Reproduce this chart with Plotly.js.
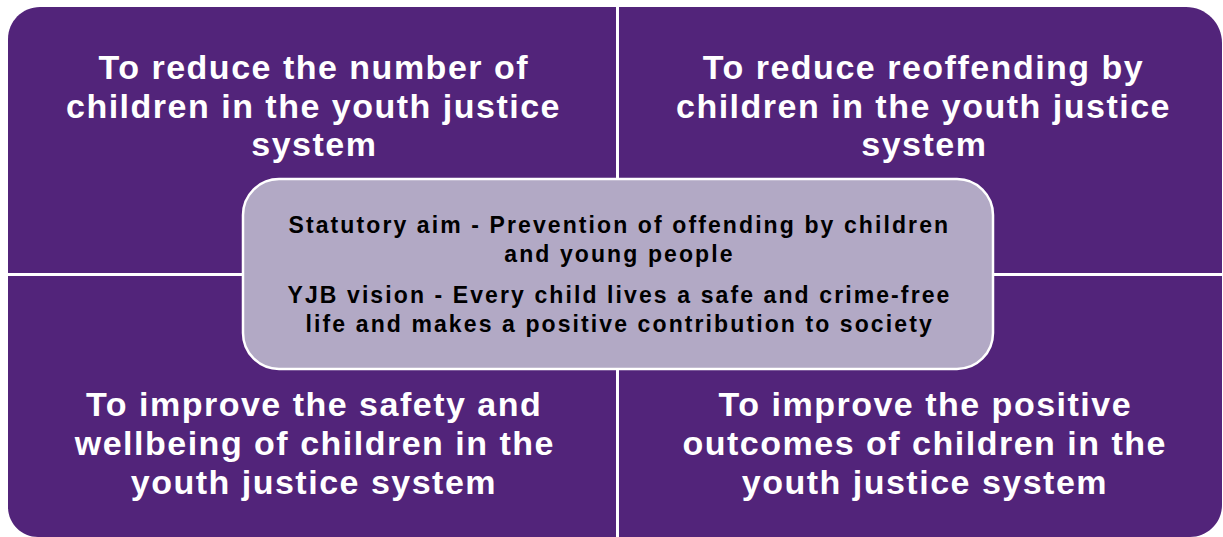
<!DOCTYPE html>
<html>
<head>
<meta charset="utf-8">
<script src="https://cdn.plot.ly/plotly-3.0.1.min.js"></script>
<style>html,body{margin:0;padding:0;background:#fff;}#chart{width:1223px;height:537px;}</style>
</head>
<body>
<div id="chart"></div>
<script>
// Diagram content
var quadrantLabels = [
  "To reduce the number of<br>children in the youth justice<br>system",
  "To reduce reoffending by<br>children in the youth justice<br>system",
  "To improve the safety and<br>wellbeing of children in the<br>youth justice system",
  "To improve the positive<br>outcomes of children in the<br>youth justice system"
];
var centreLines = [
  "Statutory aim - Prevention of offending by children<br>and young people",
  "YJB vision - Every child lives a safe and crime-free<br>life and makes a positive contribution to society"
];

var PURPLE = "#52247a";
var LAVENDER = "#b2a9c5";
var FONT = "Liberation Sans, Arial, sans-serif";

function roundRect(x0, y0, x1, y1, rtl, rtr, rbr, rbl) {
  var k = 0.5523;
  var p = "M" + (x0 + rtl) + "," + y0;
  p += " L" + (x1 - rtr) + "," + y0;
  if (rtr) p += " C" + (x1 - rtr + rtr * k) + "," + y0 + " " + x1 + "," + (y0 + rtr - rtr * k) + " " + x1 + "," + (y0 + rtr);
  p += " L" + x1 + "," + (y1 - rbr);
  if (rbr) p += " C" + x1 + "," + (y1 - rbr + rbr * k) + " " + (x1 - rbr + rbr * k) + "," + y1 + " " + (x1 - rbr) + "," + y1;
  p += " L" + (x0 + rbl) + "," + y1;
  if (rbl) p += " C" + (x0 + rbl - rbl * k) + "," + y1 + " " + x0 + "," + (y1 - rbl + rbl * k) + " " + x0 + "," + (y1 - rbl);
  p += " L" + x0 + "," + (y0 + rtl);
  if (rtl) p += " C" + x0 + "," + (y0 + rtl - rtl * k) + " " + (x0 + rtl - rtl * k) + "," + y0 + " " + (x0 + rtl) + "," + y0;
  return p + " Z";
}

var quads = [
  [8, 7, 616, 273, 32, 0, 0, 0],
  [619, 7, 1222, 273, 0, 36, 0, 0],
  [8, 276, 616, 537, 0, 0, 0, 30],
  [619, 276, 1222, 537, 0, 0, 32, 0]
];
var shapes = quads.map(function (q) {
  return {type: "path", xref: "x", yref: "y", path: roundRect.apply(null, q),
          fillcolor: PURPLE, line: {width: 0}, layer: "below"};
});
shapes.push({type: "path", xref: "x", yref: "y",
  path: roundRect(243, 179, 993, 369, 36, 36, 36, 36),
  fillcolor: LAVENDER, line: {color: "#ffffff", width: 2.5}, layer: "below"});

var annotations = [];
// quadrant label placement: centre x, first line y, line step
var qPos = [[313, 67, 38.5], [923, 67, 38.5], [313, 404, 39], [924, 404, 39]];
quadrantLabels.forEach(function (t, i) {
  t.split("<br>").forEach(function (line, j) {
    annotations.push({x: qPos[i][0], y: qPos[i][1] + j * qPos[i][2], xref: "x", yref: "y",
      text: "<b>" + line + "</b>", showarrow: false, xanchor: "center", yanchor: "middle",
      font: {family: FONT, size: 34, color: "#ffffff"}});
  });
});
var cPos = [[618, 225, 29], [618, 295, 28.5]];
centreLines.forEach(function (t, i) {
  t.split("<br>").forEach(function (line, j) {
    annotations.push({x: cPos[i][0], y: cPos[i][1] + j * cPos[i][2], xref: "x", yref: "y",
      text: "<b>" + line + "</b>", showarrow: false, xanchor: "center", yanchor: "middle",
      font: {family: FONT, size: 23, color: "#000000"}});
  });
});

var layout = {
  width: 1223, height: 537,
  margin: {l: 0, r: 0, t: 0, b: 0},
  paper_bgcolor: "#ffffff", plot_bgcolor: "#ffffff",
  xaxis: {range: [0, 1223], visible: false, fixedrange: true},
  yaxis: {range: [537, 0], visible: false, fixedrange: true},
  showlegend: false,
  shapes: shapes,
  annotations: annotations
};
Plotly.newPlot("chart", [], layout, {staticPlot: true, displayModeBar: false}).then(function () {
  document.querySelectorAll("#chart .annotation-text").forEach(function (el) {
    var fs = parseFloat(el.style.fontSize) || 0;
    var ls = fs > 28 ? 1.5 : 2.1;
    el.style.letterSpacing = ls + "px";
    el.setAttribute("transform", "translate(" + (ls / 2) + ",0)");
  });
});
</script>
</body>
</html>
